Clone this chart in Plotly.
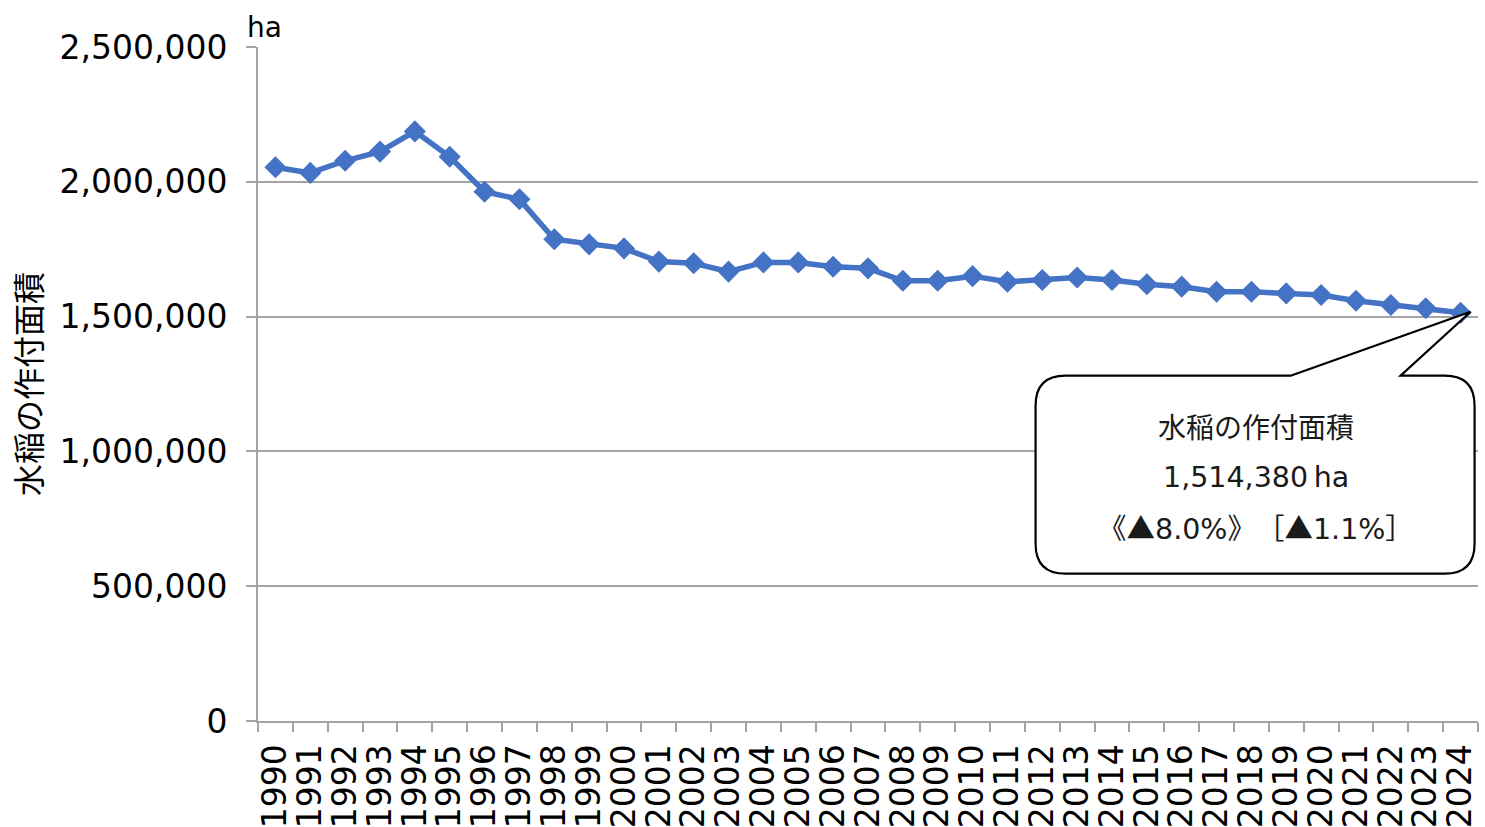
import plotly.graph_objects as go

# 水稲の作付面積 (ha), 1990-2024
years = [str(y) for y in range(1990, 2025)]
area_ha = [
    2054000, 2033000, 2078000, 2112000, 2187000, 2093000, 1963000, 1935000,
    1787000, 1768000, 1753000, 1704000, 1698000, 1667000, 1701000, 1701000,
    1685000, 1679000, 1633000, 1633000, 1650000, 1629000, 1636000, 1645000,
    1636000, 1620000, 1611000, 1592000, 1592000, 1586000, 1580000, 1559000,
    1543000, 1531000, 1514380,
]
y_ticks = [0, 500000, 1000000, 1500000, 2000000, 2500000]
series_name = "水稲の作付面積"
change_8yr = "▲8.0%"
change_1yr = "▲1.1%"

FONT = "DejaVu Sans, Verdana, Noto Sans CJK JP, sans-serif"
CJK = "Noto Sans CJK JP"
LINE_BLUE = "#4472C4"
GRID = "#a3a3a3"

fig = go.Figure()
fig.add_trace(go.Scatter(
    x=years, y=area_ha, mode="lines+markers",
    line=dict(color=LINE_BLUE, width=5.5),
    marker=dict(symbol="diamond", size=17, color=LINE_BLUE),
    hoverinfo="x+y", showlegend=False,
))

last_idx, last_y = len(years) - 1, area_ha[-1]

# speech-bubble callout pointing at the latest value (pixel offsets from the point, y up)
R = 30
L, Rt, T, B = -425, 14, -63, -261
bubble = (
    f"M -170,{T} L 10,1 L -60,{T} L {Rt - R},{T} Q {Rt},{T} {Rt},{T - R} "
    f"L {Rt},{B + R} Q {Rt},{B} {Rt - R},{B} L {L + R},{B} Q {L},{B} {L},{B + R} "
    f"L {L},{T - R} Q {L},{T} {L + R},{T} Z"
)
fig.add_shape(
    type="path", xref="x", yref="y",
    xsizemode="pixel", ysizemode="pixel",
    xanchor=last_idx, yanchor=last_y,
    path=bubble, line=dict(color="black", width=2.2), fillcolor="white",
    layer="above",
)


def cjk(s):
    return f'<span style="font-family:{CJK}">{s}</span>'


label_lines = [
    (series_name, 28),
    (f"{last_y:,}\u2009ha", 28.5),
    (f"{cjk('《▲')}{change_8yr[1:]}{cjk('》　［▲')}{change_1yr[1:]}{cjk('］')}", 28.5),
]
for i, (txt, size) in enumerate(label_lines):
    fig.add_annotation(
        x=last_idx, y=last_y, xref="x", yref="y", text=txt, showarrow=False,
        xshift=-205, yshift=-116 - 49 * i,
        font=dict(family=FONT, size=size, color="#1a1a1a"),
        xanchor="center", yanchor="middle",
    )

fig.add_annotation(
    x=0, y=1, xref="paper", yref="paper", text="ha", showarrow=False,
    xanchor="left", yanchor="bottom", xshift=-13, yshift=1,
    font=dict(family=FONT, size=28, color="black"),
)

fig.update_layout(
    width=1485, height=827,
    margin=dict(l=258, r=7, t=47, b=106),
    paper_bgcolor="white", plot_bgcolor="white",
    font=dict(family=FONT, color="black"),
)
fig.update_xaxes(
    type="category", range=[-0.5, len(years) - 0.5], automargin=False,
    tickmode="array", tickvals=years, ticktext=years,
    tickson="boundaries", ticks="outside", ticklen=9, tickwidth=2, tickcolor=GRID,
    ticklabelstandoff=8,
    showgrid=False, showline=True, linecolor=GRID, linewidth=2,
    tickangle=-90, tickfont=dict(family=FONT, size=33, color="black"),
)
fig.update_yaxes(
    range=[0, 2500000], tickvals=y_ticks, automargin=False,
    ticktext=[f"{v:,}" for v in y_ticks],
    ticks="outside", ticklen=10, tickwidth=2, tickcolor=GRID,
    ticklabelstandoff=12,
    showgrid=True, gridcolor=GRID, gridwidth=2,
    showline=True, linecolor=GRID, linewidth=2, zeroline=False,
    tickfont=dict(family=FONT, size=33, color="black"),
    title=dict(text=series_name, font=dict(family=FONT, size=32, color="black"), standoff=8),
)

fig.write_html("out.html")
